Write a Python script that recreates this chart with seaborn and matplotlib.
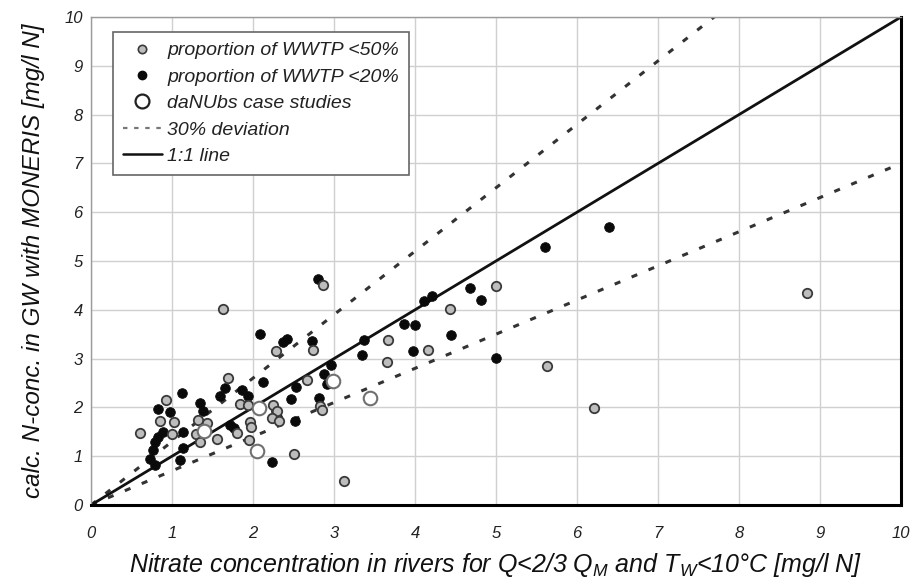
import matplotlib
matplotlib.use("Agg")
import matplotlib.pyplot as plt
from matplotlib.lines import Line2D
import numpy as np
import pandas as pd
import seaborn as sns

# Observed nitrate in rivers (x) vs. groundwater N-concentration calculated with MONERIS (y), mg/l N
wwtp50_x = [0.60, 0.85, 0.93, 1.02, 1.00, 1.32, 1.43, 1.30, 1.35, 1.55, 1.63, 1.69, 1.80,
            1.84, 1.94, 1.96, 1.98, 1.95, 2.25, 2.29, 2.23, 2.32, 2.28, 2.51, 2.67, 2.74,
            2.83, 2.85, 2.86, 3.12, 3.66, 3.67, 4.16, 4.43, 5.00, 5.63, 6.21, 8.84]
wwtp50_y = [1.48, 1.73, 2.15, 1.70, 1.46, 1.75, 1.67, 1.46, 1.29, 1.36, 4.02, 2.60, 1.47,
            2.07, 2.05, 1.70, 1.60, 1.33, 2.04, 1.93, 1.78, 1.73, 3.15, 1.05, 2.56, 3.17,
            2.03, 1.94, 4.50, 0.49, 2.94, 3.38, 3.18, 4.02, 4.48, 2.84, 1.99, 4.35]

wwtp20_x = [0.73, 0.79, 0.77, 0.79, 0.83, 0.89, 0.83, 0.97, 1.10, 1.13, 1.14, 1.12, 1.35,
            1.38, 1.59, 1.66, 1.72, 1.76, 1.86, 1.94, 2.08, 2.12, 2.23, 2.28, 2.29, 2.37,
            2.42, 2.47, 2.53, 2.52, 2.73, 2.80, 2.81, 2.88, 2.91, 2.96, 3.35, 3.37, 3.86,
            3.97, 4.00, 4.11, 4.21, 4.44, 4.68, 4.81, 5.00, 5.60, 6.40]
wwtp20_y = [0.95, 0.82, 1.12, 1.29, 1.39, 1.50, 1.97, 1.90, 0.92, 1.16, 1.50, 2.29, 2.08,
            1.92, 2.23, 2.40, 1.63, 1.58, 2.35, 2.23, 3.50, 2.52, 0.88, 1.92, 1.80, 3.33,
            3.40, 2.17, 2.41, 1.73, 3.37, 4.63, 2.20, 2.69, 2.47, 2.87, 3.08, 3.39, 3.70,
            3.15, 3.69, 4.18, 4.28, 3.48, 4.44, 4.21, 3.01, 5.29, 5.69]

danubs_x = [1.39, 2.07, 2.05, 2.99, 3.44]
danubs_y = [1.51, 1.98, 1.10, 2.54, 2.19]

ticks = list(range(0, 11))
line_x = [0, 10]
deviation = 0.30

sns.set_theme(style="white")
plt.rcParams["font.family"] = ["Liberation Sans", "DejaVu Sans"]
plt.rcParams["mathtext.fontset"] = "custom"
plt.rcParams["mathtext.it"] = "Liberation Sans:italic"
plt.rcParams["mathtext.rm"] = "Liberation Sans"

fig = plt.figure(figsize=(9.14, 5.84), dpi=100)
ax = fig.add_axes([0.0996, 0.1353, 0.8862, 0.8356])

df20 = pd.DataFrame({"x": wwtp20_x, "y": wwtp20_y})
df50 = pd.DataFrame({"x": wwtp50_x, "y": wwtp50_y})
dfd = pd.DataFrame({"x": danubs_x, "y": danubs_y})

# reference lines: 1:1 and +/-30 % deviation
xs = np.array(line_x, dtype=float)
ax.plot(xs, xs * (1 + deviation), color="#333333", lw=2.2, ls=(0, (2, 4)), zorder=2)
ax.plot(xs, xs * (1 - deviation), color="#333333", lw=2.2, ls=(0, (2, 4)), zorder=2)
ax.plot(xs, xs, color="#111111", lw=2.0, zorder=2)

sns.scatterplot(data=df20, x="x", y="y", ax=ax, color="#0a0a0a", edgecolor="#0a0a0a",
                s=48, linewidth=0.6, zorder=3, legend=False)
sns.scatterplot(data=df50, x="x", y="y", ax=ax, color="#bdbdbd", edgecolor="#3a3a3a",
                s=46, linewidth=1.3, zorder=4, legend=False)
sns.scatterplot(data=dfd, x="x", y="y", ax=ax, color="white", edgecolor="#707070",
                s=95, linewidth=1.5, zorder=5, legend=False)

ax.set_xlim(0, 10)
ax.set_ylim(0, 10)
ax.set_xticks(ticks)
ax.set_yticks(ticks)
ax.set_xticklabels([str(t) for t in ticks], fontsize=12, style="italic", color="#222222")
ax.set_yticklabels([str(t) for t in ticks], fontsize=12, style="italic", color="#222222")
ax.tick_params(axis="x", length=0, pad=15)
ax.tick_params(axis="y", length=0, pad=6)
ax.grid(True, color="#d0d0d0", lw=1.0)
ax.set_axisbelow(True)

for side in ("left", "top"):
    ax.spines[side].set_color("#9a9a9a")
    ax.spines[side].set_linewidth(1.0)
for side in ("right", "bottom"):
    ax.spines[side].set_color("#000000")
    ax.spines[side].set_linewidth(2.2)

ax.set_xlabel(r"Nitrate concentration in rivers for Q<2/3 Q$_{\mathit{M}}$ and T$_{\mathit{W}}$<10°C [mg/l N]",
              fontsize=18, style="italic", color="#111111", labelpad=7)
ax.set_ylabel("calc. N-conc. in GW with MONERIS [mg/l N]",
              fontsize=17.5, style="italic", color="#111111", labelpad=14)

handles = [
    Line2D([], [], ls="none", marker="o", ms=6, mfc="#bdbdbd", mec="#3a3a3a", mew=1.2,
           label="proportion of WWTP <50%"),
    Line2D([], [], ls="none", marker="o", ms=6, mfc="#0a0a0a", mec="#0a0a0a",
           label="proportion of WWTP <20%"),
    Line2D([], [], ls="none", marker="o", ms=10, mfc="white", mec="#222222", mew=1.6,
           label="daNUbs case studies"),
    Line2D([], [], color="#777777", lw=1.6, ls=(0, (2, 3)), label="30% deviation"),
    Line2D([], [], color="#111111", lw=1.8, label="1:1 line"),
]
leg = ax.legend(handles=handles, loc="upper left", bbox_to_anchor=(0.027, 0.969),
                borderaxespad=0, frameon=True, fancybox=False, edgecolor="#666666",
                framealpha=1, prop={"size": 14, "style": "italic"}, handlelength=2.0,
                handletextpad=0.3, borderpad=0.5, labelspacing=0.45)
leg.get_frame().set_linewidth(1.2)
for t in leg.get_texts():
    t.set_color("#222222")

fig.savefig("out.png", dpi=100)
